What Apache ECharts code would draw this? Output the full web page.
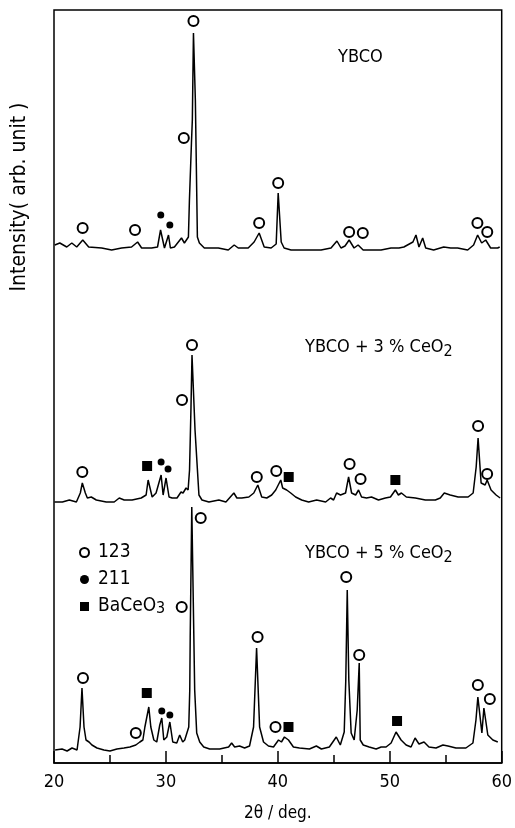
<!DOCTYPE html>
<html>
<head>
<meta charset="utf-8">
<script src="https://cdn.jsdelivr.net/npm/echarts@6/dist/echarts.min.js"></script>
<style>
  html, body { margin: 0; padding: 0; background: #fff; }
  #chart { width: 515px; height: 828px; }
</style>
</head>
<body>
<div id="chart"></div>
<script>
// XRD patterns, [2theta, intensity above own baseline]
const ybco = [
  [20.07, 2], [20.52, 4], [21.14, 0], [21.59, 4], [22.03, 0], [22.57, 7], [23.10, 0],
  [24.26, -1], [25.15, -3], [26.04, -1], [26.93, 0], [27.47, 5], [27.83, -1], [28.72, -1],
  [29.25, 0], [29.52, 17], [29.87, -1], [30.23, 12], [30.40, -1], [30.76, 0], [31.39, 9],
  [31.65, 4], [32.01, 10], [32.10, 47], [32.28, 104], [32.36, 127], [32.46, 214],
  [32.63, 147], [32.81, 10], [32.99, 4], [33.43, -1], [34.68, -1], [35.57, -3], [36.10, 2],
  [36.46, -1], [37.35, -1], [37.88, 5], [38.33, 14], [38.78, 0], [39.40, -1], [39.85, 3],
  [40.03, 54], [40.30, 5], [40.56, -1], [41.18, -3], [42.08, -3], [42.97, -3], [43.86, -3],
  [44.75, -1], [45.28, 6], [45.64, -1], [46.00, 1], [46.37, 7], [46.81, -1], [47.17, 2],
  [47.62, -3], [48.33, -3], [49.22, -3], [50.11, -1], [50.82, -1], [51.26, 0], [52.07, 5],
  [52.34, 12], [52.61, 0], [52.94, 9], [53.21, -1], [53.92, -3], [54.82, 0], [55.44, -1],
  [56.06, -1], [56.96, -3], [57.49, 2], [57.85, 12], [58.21, 4], [58.57, 7], [59.01, -1],
  [59.64, -1], [59.82, 0]
];
const ce3 = [
  [20.04, -2], [20.75, -2], [21.37, 0], [22.00, -2], [22.35, 7], [22.53, 17], [22.80, 7],
  [22.98, 2], [23.33, 3], [23.78, 0], [24.67, -2], [25.38, -2], [25.83, 2], [26.27, 0],
  [26.98, 0], [27.79, 2], [28.23, 5], [28.41, 20], [28.77, 3], [29.12, 7], [29.57, 25],
  [29.75, 5], [30.01, 22], [30.28, 3], [30.55, 2], [30.99, 2], [31.35, 8], [31.53, 7],
  [31.80, 12], [31.98, 10], [32.11, 30], [32.24, 93], [32.33, 145], [32.60, 70], [32.95, 5],
  [33.22, 0], [33.84, -2], [34.73, 0], [35.36, -2], [36.07, 7], [36.34, 2], [36.78, 2],
  [37.41, 3], [37.85, 7], [38.21, 15], [38.56, 3], [39.01, 2], [39.45, 5], [39.81, 10],
  [40.26, 20], [40.43, 12], [40.79, 10], [41.15, 7], [41.59, 3], [42.13, 0], [42.75, -2],
  [43.47, 0], [44.27, -2], [44.71, 2], [44.98, 0], [45.25, 7], [45.60, 5], [46.05, 7],
  [46.32, 23], [46.59, 7], [46.95, 5], [47.21, 10], [47.48, 3], [47.92, 2], [48.37, 3],
  [48.99, 0], [49.61, 2], [50.06, 3], [50.50, 10], [50.77, 5], [51.04, 7], [51.48, 3],
  [52.29, 2], [53.18, 0], [54.07, 0], [54.51, 2], [54.87, 7], [55.40, 5], [56.11, 3],
  [57.00, 3], [57.45, 7], [57.72, 33], [57.89, 62], [58.16, 17], [58.52, 15], [58.70, 20],
  [59.05, 10], [59.50, 5], [59.86, 2]
];
const ce5 = [
  [20.10, 0], [20.72, 1], [21.17, -1], [21.61, 2], [22.06, 0], [22.33, 23], [22.50, 62],
  [22.68, 23], [22.86, 10], [23.13, 8], [23.39, 5], [23.84, 2], [24.46, 0], [25.00, -1],
  [25.62, 1], [26.25, 2], [26.78, 3], [27.31, 5], [27.67, 8], [27.94, 10], [28.12, 23],
  [28.47, 43], [28.65, 23], [28.92, 10], [29.18, 8], [29.45, 25], [29.63, 32], [29.81, 10],
  [30.08, 13], [30.35, 28], [30.61, 8], [30.97, 7], [31.23, 15], [31.50, 8], [31.68, 10],
  [32.04, 23], [32.13, 60], [32.17, 113], [32.31, 243], [32.57, 60], [32.75, 17],
  [33.02, 8], [33.38, 3], [33.91, 1], [34.80, 1], [35.60, 3], [35.87, 7], [36.14, 3],
  [36.58, 4], [37.03, 2], [37.47, 4], [37.83, 23], [38.10, 102], [38.37, 23], [38.72, 8],
  [39.16, 4], [39.61, 3], [40.06, 10], [40.32, 8], [40.59, 13], [40.95, 10], [41.39, 3],
  [41.93, 2], [42.82, 1], [43.44, 4], [43.89, 1], [44.60, 3], [45.22, 13], [45.58, 5],
  [45.93, 18], [46.07, 70], [46.20, 160], [46.34, 70], [46.55, 17], [46.82, 10],
  [47.09, 40], [47.27, 87], [47.36, 10], [47.63, 5], [48.16, 3], [48.78, 1], [49.23, 3],
  [49.67, 3], [50.12, 7], [50.56, 18], [51.01, 10], [51.46, 5], [51.90, 3], [52.26, 12],
  [52.61, 6], [53.06, 8], [53.50, 3], [54.13, 2], [54.75, 5], [55.20, 4], [55.91, 2],
  [56.80, 2], [57.43, 7], [57.70, 30], [57.87, 53], [58.23, 17], [58.41, 42], [58.76, 15],
  [59.21, 10], [59.65, 8]
];

// vertical offsets of the stacked patterns
const offYbco = 516;
const offCe3 = 263;
const offCe5 = 13;

// phase markers: [2theta, height above baseline]
const ybco123 = [[22.56, 19], [27.24, 17], [31.6, 109], [32.46, 226], [38.33, 24], [40.03, 64],
  [46.37, 15], [47.59, 14], [57.83, 24], [58.71, 15]];
const ybco211 = [[29.54, 32], [30.35, 22]];
const ce3_123 = [[22.53, 28], [31.44, 100], [32.33, 155], [38.12, 23], [39.86, 29], [46.41, 36],
  [47.39, 21], [57.89, 74], [58.70, 26]];
const ce3_211 = [[29.57, 38], [30.19, 31]];
const ce3_ba = [[28.32, 34], [40.97, 23], [50.50, 20]];
const ce5_123 = [[22.59, 72], [27.31, 17], [31.41, 143], [33.11, 232], [38.19, 113], [39.79, 23],
  [46.11, 173], [47.27, 95], [57.87, 65], [58.94, 51]];
const ce5_211 = [[29.63, 39], [30.35, 35]];
const ce5_ba = [[28.29, 57], [40.95, 23], [50.65, 29]];

const xTicks = [20, 30, 40, 50, 60];

const shift = (arr, off) => arr.map(p => [p[0], p[1] + off]);
const font = 'DejaVu Sans Condensed';

const chart = echarts.init(document.getElementById('chart'));

const traceStyle = { color: '#000', width: 1.5 };
function trace(data, off) {
  return {
    type: 'line', data: shift(data, off), showSymbol: false, symbol: 'none',
    lineStyle: traceStyle, silent: true, z: 2, animation: false
  };
}

chart.setOption({
  backgroundColor: '#fff',
  animation: false,
  grid: {
    left: 54, right: 12, top: 10, bottom: 65,
    show: true, borderColor: '#000', borderWidth: 1.5
  },
  xAxis: {
    type: 'value', min: xTicks[0], max: xTicks[xTicks.length - 1], interval: 10,
    name: '2θ / deg.', nameLocation: 'middle', nameGap: 42,
    nameTextStyle: { fontFamily: font, fontSize: 17, color: '#000' },
    axisLine: { show: true, lineStyle: { color: '#000', width: 1.5 } },
    axisTick: { show: true, inside: true, length: 12, lineStyle: { color: '#000', width: 1.5 } },
    minorTick: { show: true, splitNumber: 2, length: 8, lineStyle: { color: '#000', width: 1.5 } },
    axisLabel: { fontFamily: font, fontSize: 18, color: '#000', margin: 10 },
    splitLine: { show: false }
  },
  yAxis: {
    type: 'value', min: 0, max: 753,
    axisLine: { show: false }, axisTick: { show: false },
    axisLabel: { show: false }, splitLine: { show: false }
  },
  legend: {
    data: [{ name: '123', icon: 'emptyCircle' }, { name: '211', icon: 'circle' }, { name: 'BaCeO3', icon: 'rect' }],
    orient: 'vertical', left: 74, top: 537, itemGap: 6,
    itemWidth: 9, itemHeight: 9, selectedMode: false,
    formatter: n => n === 'BaCeO3' ? 'BaCeO{sub|3}' : n,
    textStyle: {
      fontFamily: font, fontSize: 19, color: '#000', lineHeight: 21, padding: [0, 0, 0, 4],
      rich: { sub: { fontFamily: font, fontSize: 16, color: '#000', verticalAlign: 'bottom', padding: [8, 0, 0, 0] } }
    }
  },
  graphic: [
    {
      type: 'text', x: 20, y: 197, rotation: Math.PI / 2,
      style: { text: 'Intensity( arb. unit )', fontFamily: font, fontSize: 21, fill: '#000', align: 'center', verticalAlign: 'middle' }
    },
    {
      type: 'text', x: 338, y: 57,
      style: { text: 'YBCO', fontFamily: font, fontSize: 18, fill: '#000', verticalAlign: 'middle' }
    },
    {
      type: 'text', x: 305, y: 347,
      style: {
        text: 'YBCO + 3 % CeO{sub|2}', fontFamily: font, fontSize: 18, fill: '#000', verticalAlign: 'middle',
        rich: { sub: { fontFamily: font, fontSize: 16, fill: '#000', padding: [10, 0, 0, 0] } }
      }
    },
    {
      type: 'text', x: 305, y: 553,
      style: {
        text: 'YBCO + 5 % CeO{sub|2}', fontFamily: font, fontSize: 18, fill: '#000', verticalAlign: 'middle',
        rich: { sub: { fontFamily: font, fontSize: 16, fill: '#000', padding: [10, 0, 0, 0] } }
      }
    }
  ],
  series: [
    trace(ybco, offYbco),
    trace(ce3, offCe3),
    trace(ce5, offCe5),
    {
      name: '123', type: 'scatter', symbol: 'emptyCircle', symbolSize: 10, z: 3,
      itemStyle: { color: '#000', borderColor: '#000', borderWidth: 1.8, opacity: 1 },
      data: shift(ybco123, offYbco).concat(shift(ce3_123, offCe3), shift(ce5_123, offCe5))
    },
    {
      name: '211', type: 'scatter', symbol: 'circle', symbolSize: 7, z: 3,
      itemStyle: { color: '#000', opacity: 1 },
      data: shift(ybco211, offYbco).concat(shift(ce3_211, offCe3), shift(ce5_211, offCe5))
    },
    {
      name: 'BaCeO3', type: 'scatter', symbol: 'rect', symbolSize: 10, z: 3,
      itemStyle: { color: '#000', opacity: 1 },
      data: shift(ce3_ba, offCe3).concat(shift(ce5_ba, offCe5))
    }
  ]
});
</script>
</body>
</html>
